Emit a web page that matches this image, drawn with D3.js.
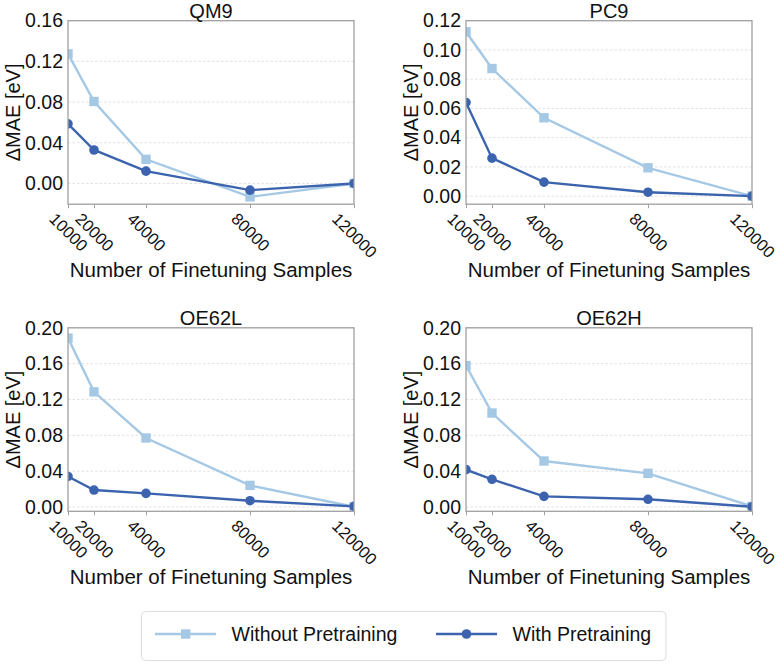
<!DOCTYPE html>
<html>
<head>
<meta charset="utf-8">
<script src="https://cdn.jsdelivr.net/npm/d3@7"></script>
<style>
  body { margin: 0; background: #fff; }
  svg text { font-family: "Liberation Sans", Arial, Helvetica, sans-serif; fill: #111; }
</style>
</head>
<body>
<div id="chart"></div>
<script>
// finetuning set sizes (x axis)
var samples = [10000, 20000, 40000, 80000, 120000];
var seriesNames = ["Without Pretraining", "With Pretraining"];
var panelNames = ["QM9", "PC9", "OE62L", "OE62H"];

// delta MAE [eV]
var qm9Without = [0.1274, 0.0806, 0.0237, -0.0132, 0];
var qm9With = [0.0586, 0.0329, 0.0121, -0.0066, 0];
var pc9Without = [0.1124, 0.0873, 0.0536, 0.0194, 0];
var pc9With = [0.0641, 0.0260, 0.0096, 0.0027, 0];
var oe62lWithout = [0.1885, 0.1285, 0.0770, 0.0241, 0.0002];
var oe62lWith = [0.0341, 0.0189, 0.0152, 0.0070, 0.0007];
var oe62hWithout = [0.1578, 0.1049, 0.0513, 0.0376, 0.0007];
var oe62hWith = [0.0417, 0.0309, 0.0119, 0.0086, 0.0003];

// y tick labels per panel
var qm9Ticks = [0, 0.04, 0.08, 0.12, 0.16];
var pc9Ticks = [0, 0.02, 0.04, 0.06, 0.08, 0.10, 0.12];
var oe62Ticks = [0, 0.04, 0.08, 0.12, 0.16, 0.20];

var W = 779, H = 664;
var pw = 286, ph = 183.5;
var lightBlue = "#a5c8e5", darkBlue = "#3b63ae";

var panels = [
  { name: panelNames[0], without: qm9Without, withPre: qm9With, ticks: qm9Ticks, lo: -0.0204, hi: 0.16, x: 68, y: 20.7 },
  { name: panelNames[1], without: pc9Without, withPre: pc9With, ticks: pc9Ticks, lo: -0.0055, hi: 0.12, x: 466, y: 20.7 },
  { name: panelNames[2], without: oe62lWithout, withPre: oe62lWith, ticks: oe62Ticks, lo: -0.0048, hi: 0.20, x: 68, y: 327.8 },
  { name: panelNames[3], without: oe62hWithout, withPre: oe62hWith, ticks: oe62Ticks, lo: -0.0048, hi: 0.20, x: 466, y: 327.8 }
];

var svg = d3.select("#chart").append("svg")
  .attr("width", W)
  .attr("height", H);

var defs = svg.append("defs");

panels.forEach(function (p, i) {
  var x = d3.scaleLinear().domain([10000, 120000]).range([0, pw]);
  var y = d3.scaleLinear().domain([p.lo, p.hi]).range([ph, 0]);

  var g = svg.append("g").attr("transform", "translate(" + p.x + "," + p.y + ")");

  defs.append("clipPath").attr("id", "clip" + i)
    .append("rect").attr("width", pw).attr("height", ph);

  // dashed horizontal grid
  g.selectAll(".grid")
    .data(p.ticks)
    .enter().append("line")
    .attr("x1", 0).attr("x2", pw)
    .attr("y1", function (d) { return y(d); })
    .attr("y2", function (d) { return y(d); })
    .attr("stroke", "#d9d9d9")
    .attr("stroke-width", 0.8)
    .attr("stroke-dasharray", "2.5,2");

  // y axis labels
  var yAxis = g.append("g")
    .call(d3.axisLeft(y).tickValues(p.ticks).tickSize(0).tickPadding(5).tickFormat(d3.format(".2f")));
  yAxis.select(".domain").remove();
  yAxis.selectAll("text")
    .style("font-size", "19.5px")
    .attr("fill", "#111");

  // x axis with rotated labels
  var xAxis = g.append("g")
    .attr("transform", "translate(0," + ph + ")")
    .call(d3.axisBottom(x).tickValues(samples).tickSize(4).tickFormat(d3.format("d")));
  xAxis.select(".domain").remove();
  xAxis.selectAll("line").attr("stroke", "#a0a0a0");
  var fs = 16.5;
  xAxis.selectAll("text")
    .style("font-size", fs + "px")
    .attr("fill", "#111")
    .attr("text-anchor", "middle")
    .attr("dy", "0.35em")
    .attr("y", 0)
    .attr("transform", function () {
      var len = this.getComputedTextLength();
      var off = 7.5 + (len + 0.72 * fs) / (2 * Math.SQRT2);
      return "translate(0," + off + ") rotate(45)";
    });

  // lines + markers
  var line = d3.line()
    .x(function (d, j) { return x(samples[j]); })
    .y(function (d) { return y(d); });

  var plot = g.append("g").attr("clip-path", "url(#clip" + i + ")");

  plot.append("path")
    .datum(p.without)
    .attr("d", line)
    .attr("fill", "none")
    .attr("stroke", lightBlue)
    .attr("stroke-width", 2.4);

  plot.append("path")
    .datum(p.withPre)
    .attr("d", line)
    .attr("fill", "none")
    .attr("stroke", darkBlue)
    .attr("stroke-width", 2.4);

  plot.selectAll(".sq")
    .data(p.without)
    .enter().append("rect")
    .attr("x", function (d, j) { return x(samples[j]) - 4.7; })
    .attr("y", function (d) { return y(d) - 4.7; })
    .attr("width", 9.4).attr("height", 9.4)
    .attr("fill", lightBlue);

  plot.selectAll(".dot")
    .data(p.withPre)
    .enter().append("circle")
    .attr("cx", function (d, j) { return x(samples[j]); })
    .attr("cy", function (d) { return y(d); })
    .attr("r", 4.8)
    .attr("fill", darkBlue);

  // frame
  g.append("rect")
    .attr("width", pw).attr("height", ph)
    .attr("fill", "none")
    .attr("stroke", "#a0a0a0")
    .attr("stroke-width", 1.3);

  g.append("text")
    .attr("x", pw / 2).attr("y", -2.5)
    .attr("text-anchor", "middle")
    .style("font-size", "20px")
    .text(p.name);

  g.append("text")
    .attr("transform", "translate(-48," + ph / 2 + ") rotate(-90)")
    .attr("text-anchor", "middle")
    .style("font-size", "20px")
    .text("ΔMAE [eV]");

  g.append("text")
    .attr("x", pw / 2).attr("y", ph + 73)
    .attr("text-anchor", "middle")
    .style("font-size", "20.5px")
    .text("Number of Finetuning Samples");
});

// legend
var legend = svg.append("g");
legend.append("rect")
  .attr("x", 141.5).attr("y", 611.5)
  .attr("width", 524.5).attr("height", 49)
  .attr("rx", 4)
  .attr("fill", "#fff")
  .attr("stroke", "#dcdcdc")
  .attr("stroke-width", 1);

var legendItems = [
  { label: seriesNames[0], color: lightBlue, marker: "square", x: 155 },
  { label: seriesNames[1], color: darkBlue, marker: "circle", x: 436 }
];

legendItems.forEach(function (it) {
  var lg = legend.append("g").attr("transform", "translate(" + it.x + ",634)");
  lg.append("line")
    .attr("x1", 0).attr("x2", 61)
    .attr("stroke", it.color)
    .attr("stroke-width", 2.4);
  if (it.marker === "square") {
    lg.append("rect").attr("x", 26).attr("y", -4.7).attr("width", 9.4).attr("height", 9.4).attr("fill", it.color);
  } else {
    lg.append("circle").attr("cx", 30.5).attr("r", 4.8).attr("fill", it.color);
  }
  lg.append("text")
    .attr("x", 76.5).attr("y", 6.5)
    .style("font-size", "19.5px")
    .text(it.label);
});
</script>
</body>
</html>
